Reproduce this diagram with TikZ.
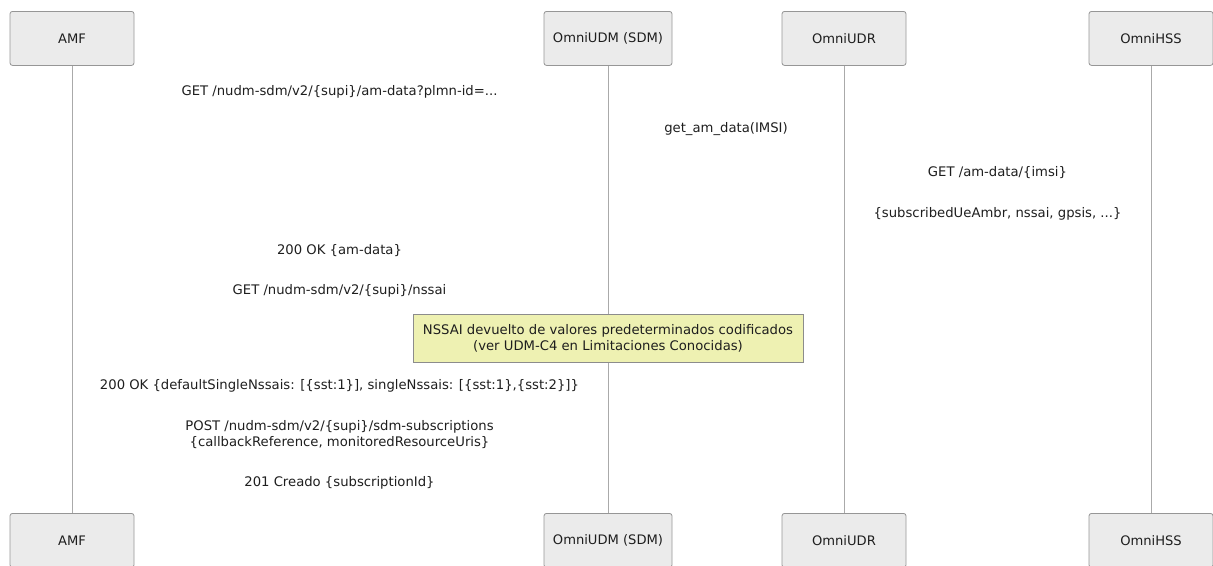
\documentclass[tikz,border=0pt]{standalone}
\usepackage{fontspec}
\setmainfont{DejaVu Sans}
\definecolor{boxfill}{RGB}{235,235,235}
\definecolor{boxline}{RGB}{150,150,150}
\definecolor{lifeline}{RGB}{170,170,170}
\definecolor{notefill}{RGB}{238,241,178}
\definecolor{noteline}{RGB}{140,140,140}
\definecolor{txt}{RGB}{30,30,30}
\begin{document}
\begin{tikzpicture}[x=1pt,y=-1pt,
  part/.style={draw=boxline,fill=boxfill,rounded corners=2.5pt,line width=0.8pt,
    minimum width=124pt,minimum height=54pt,inner sep=0pt,anchor=north,
    font=\fontsize{13.1}{15}\selectfont,text=txt},
  msg/.style={font=\fontsize{13.2}{16}\selectfont,text=txt,align=center,inner sep=0pt},
  life/.style={draw=lifeline,line width=1pt},
  notebox/.style={draw=noteline,fill=notefill,line width=0.8pt,minimum width=390pt,
    minimum height=48pt,inner sep=0pt,align=center,font=\fontsize{13.2}{16}\selectfont,text=txt}]
\clip (0,0) rectangle (1213,565);
\useasboundingbox (0,0) rectangle (1213,565);
% participants top
\node[part] (amfT) at (72,11) {AMF};
\node[part,minimum width=128pt] (udmT) at (608,11) {OmniUDM (SDM)};
\node[part] (udrT) at (844,11) {OmniUDR};
\node[part] (hssT) at (1151,11) {OmniHSS};
% participants bottom
\node[part] (amfB) at (72,513) {AMF};
\node[part,minimum width=128pt] (udmB) at (608,513) {OmniUDM (SDM)};
\node[part] (udrB) at (844,513) {OmniUDR};
\node[part] (hssB) at (1151,513) {OmniHSS};
% lifelines
\draw[life] (amfT.south) -- (amfB.north);
\draw[life] (udmT.south) -- (udmB.north);
\draw[life] (udrT.south) -- (udrB.north);
\draw[life] (hssT.south) -- (hssB.north);
% messages
\node[msg] (m1) at (339.5,91.5) {GET /nudm-sdm/v2/\{supi\}/am-data?plmn-id=...};
\node[msg] (m2) at (726,129.5) {get\_am\_data(IMSI)};
\node[msg] (m3) at (997.5,172.5) {GET /am-data/\{imsi\}};
\node[msg] (m4) at (997.5,213.5) {\{subscribedUeAmbr, nssai, gpsis, ...\}};
\node[msg] (m5) at (339.5,250.5) {200 OK \{am-data\}};
\node[msg] (m6) at (339.5,290.5) {GET /nudm-sdm/v2/\{supi\}/nssai};
\node[notebox] (note) at (608,338) {NSSAI devuelto de valores predeterminados codificados\\(ver UDM-C4 en Limitaciones Conocidas)};
\node[msg] (m7) at (339.5,385.5) {200 OK \{defaultSingleNssais: [\{sst:1\}], singleNssais: [\{sst:1\},\{sst:2\}]\}};
\node[msg] (m8) at (339.5,434.5) {POST /nudm-sdm/v2/\{supi\}/sdm-subscriptions\\\{callbackReference, monitoredResourceUris\}};
\node[msg] (m9) at (339.5,482.5) {201 Creado \{subscriptionId\}};
\end{tikzpicture}
\end{document}
